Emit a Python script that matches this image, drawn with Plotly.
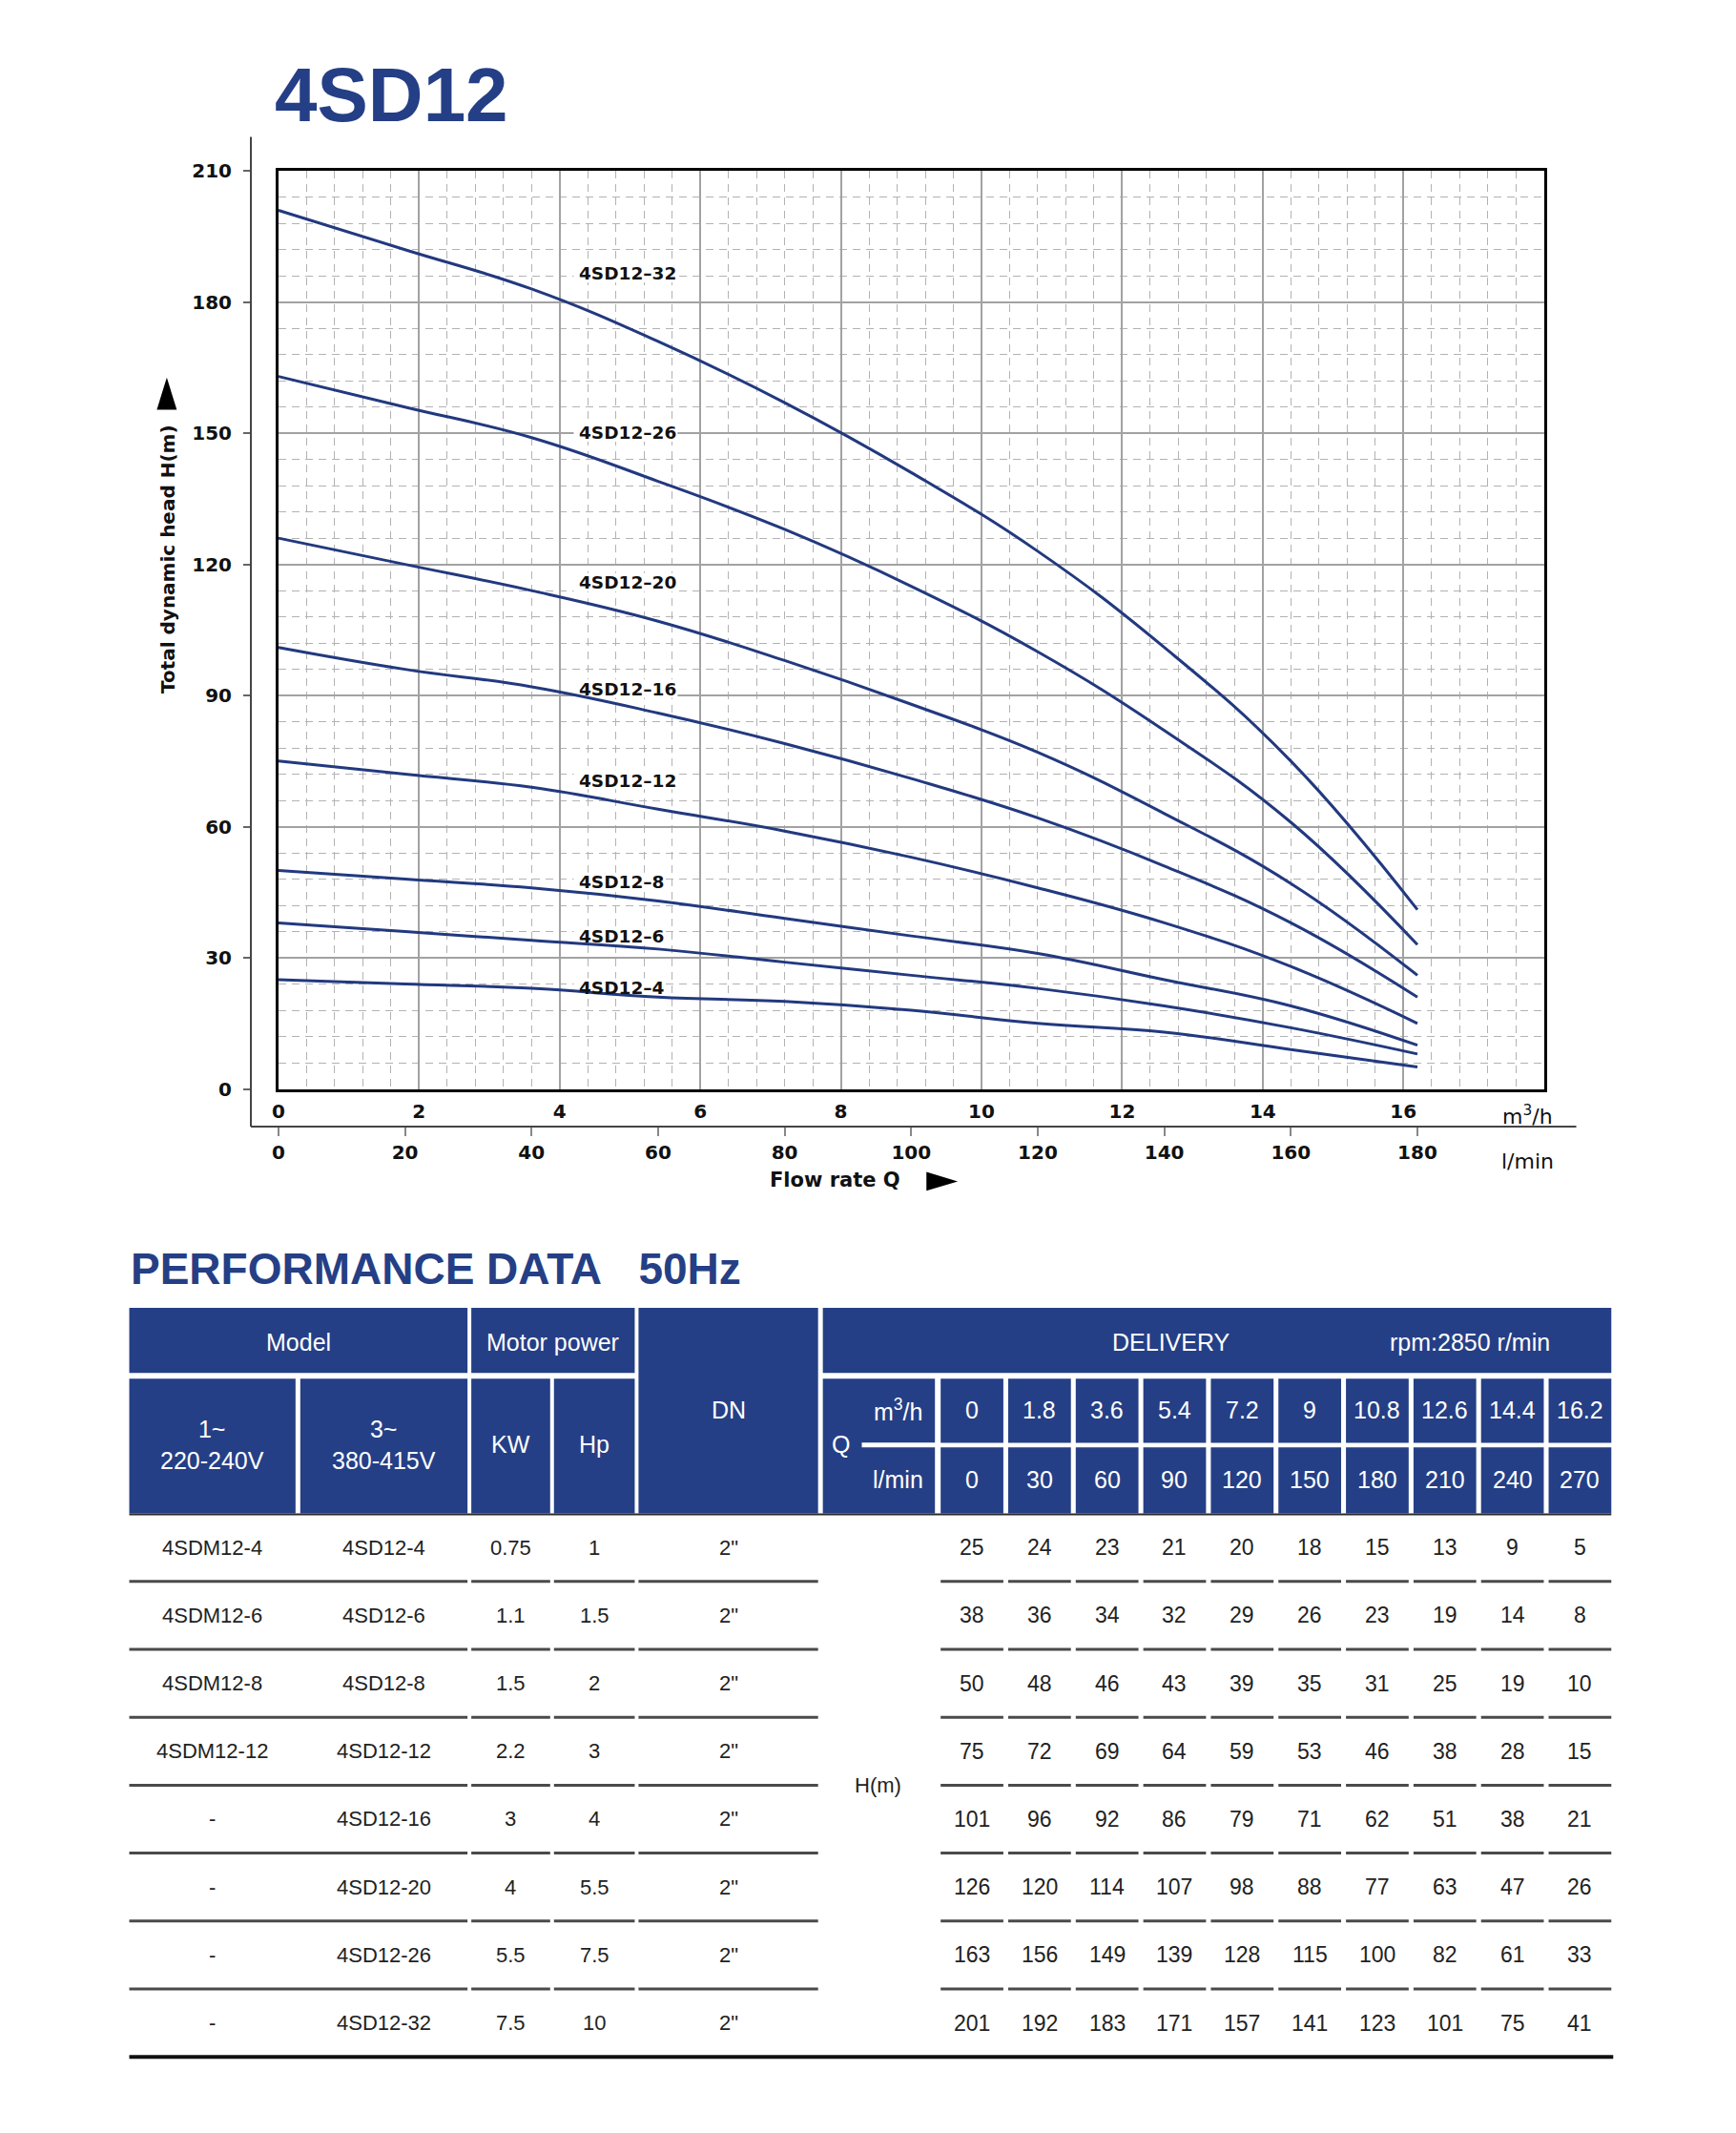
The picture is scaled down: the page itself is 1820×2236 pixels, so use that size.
import plotly.graph_objects as go

W, H = 1820, 2236
OFF = 8                      # default body margin of the html page
FIG_W, FIG_H = W - 2 * OFF - 24, H - 2 * OFF - 40
BLUE = "#253f86"
CURVE = "#22397f"
FONT = "Liberation Sans, Arial, sans-serif"
WIDE = "DejaVu Sans, Verdana, sans-serif"

# ---------- data ----------
q_m3h = [0, 1.8, 3.6, 5.4, 7.2, 9, 10.8, 12.6, 14.4, 16.2]
q_lmin = [0, 30, 60, 90, 120, 150, 180, 210, 240, 270]

model_1ph = ["4SDM12-4", "4SDM12-6", "4SDM12-8", "4SDM12-12", "-", "-", "-", "-"]
model_3ph = ["4SD12-4", "4SD12-6", "4SD12-8", "4SD12-12",
             "4SD12-16", "4SD12-20", "4SD12-26", "4SD12-32"]
power_kw = ["0.75", "1.1", "1.5", "2.2", "3", "4", "5.5", "7.5"]
power_hp = ["1", "1.5", "2", "3", "4", "5.5", "7.5", "10"]
dn = ['2"'] * 8

head = [
    [25, 24, 23, 21, 20, 18, 15, 13, 9, 5],
    [38, 36, 34, 32, 29, 26, 23, 19, 14, 8],
    [50, 48, 46, 43, 39, 35, 31, 25, 19, 10],
    [75, 72, 69, 64, 59, 53, 46, 38, 28, 15],
    [101, 96, 92, 86, 79, 71, 62, 51, 38, 21],
    [126, 120, 114, 107, 98, 88, 77, 63, 47, 26],
    [163, 156, 149, 139, 128, 115, 100, 82, 61, 33],
    [201, 192, 183, 171, 157, 141, 123, 101, 75, 41],
]
curve_names = ["4SD12–4", "4SD12–6", "4SD12–8", "4SD12–12",
               "4SD12–16", "4SD12–20", "4SD12–26", "4SD12–32"]

m3h_ticks = [0, 2, 4, 6, 8, 10, 12, 14, 16]
lmin_ticks = [0, 20, 40, 60, 80, 100, 120, 140, 160, 180]
h_ticks = [0, 30, 60, 90, 120, 150, 180, 210]


# ---------- helpers (page pixels -> paper) ----------
def px(x):
    return (x - OFF) / FIG_W


def py(y):
    return 1 - (y - OFF) / FIG_H


def rect(x0, y0, x1, y1, color=BLUE):
    return dict(type="rect", xref="paper", yref="paper",
                x0=px(x0), x1=px(x1), y0=py(y0), y1=py(y1),
                fillcolor=color, line=dict(width=0), layer="above")


def hline(x0, x1, y, color="#4a4a4a", width=3):
    return dict(type="line", xref="paper", yref="paper",
                x0=px(x0), x1=px(x1), y0=py(y), y1=py(y),
                line=dict(color=color, width=width))


def text(s, x, y, size=22, color="#222", bold=False, family=FONT, **kw):
    return dict(text=s, xref="paper", yref="paper", x=px(x), y=py(y),
                showarrow=False, xanchor=kw.pop("xanchor", "center"),
                yanchor="middle",
                font=dict(family=family, size=size, color=color,
                          weight="bold" if bold else "normal"), **kw)


# ---------- chart ----------
fig = go.Figure()
for name, h in zip(curve_names, head):
    fig.add_trace(go.Scatter(x=q_m3h, y=h, mode="lines", name=name,
                             line=dict(color=CURVE, width=3, shape="spline",
                                       smoothing=1.2),
                             hoverinfo="skip"))
fig.add_trace(go.Scatter(x=[], y=[], xaxis="x2", yaxis="y2", showlegend=False))

tick_font = dict(family=WIDE, size=20, color="#111", weight="bold")
grid = dict(showgrid=True, gridcolor="#a2a2a2", gridwidth=1.5, zeroline=False,
            showline=True, linecolor="black", linewidth=3, mirror=True)

shapes = []
annotations = []

# outer axis lines
shapes.append(dict(type="line", xref="paper", yref="paper",
                   x0=px(257), x1=px(257), y0=py(133), y1=py(1182),
                   line=dict(color="#444", width=2)))
shapes.append(hline(257, 1652, 1182, color="#444", width=2))
# arrows
shapes.append(dict(type="path", xref="paper", yref="paper",
                   path=f"M {px(158)},{py(422)} L {px(179)},{py(422)} "
                        f"L {px(168.5)},{py(388)} Z",
                   fillcolor="black", line=dict(width=0)))
shapes.append(dict(type="path", xref="paper", yref="paper",
                   path=f"M {px(968)},{py(1230)} L {px(968)},{py(1250)} "
                        f"L {px(1001)},{py(1240)} Z",
                   fillcolor="black", line=dict(width=0)))

# curve labels (white box under the text, above the grid)
label_x = 4.25
label_h = [23.1, 35.0, 47.3, 70.6, 91.5, 115.8, 150.1, 186.5]
for name, hy in zip(curve_names, label_h):
    wq = (13.2 * len(name)) / 74.0
    shapes.append(dict(type="rect", xref="x", yref="y", layer="between",
                       x0=label_x - 0.05, x1=label_x + wq, y0=hy - 2.0,
                       y1=hy + 2.2, fillcolor="white", line=dict(width=0)))
    annotations.append(dict(text=name, xref="x", yref="y", x=label_x, y=hy,
                            showarrow=False, xanchor="left", yanchor="middle",
                            font=dict(family=WIDE, size=18.5, color="#111",
                                      weight="bold")))

annotations += [
    text("4SD12", 405, 88, size=80, color=BLUE, bold=True),
    text("Total dynamic head H(m)", 169, 580, size=20, color="#111",
         bold=True, family=WIDE, textangle=-90),
    text("Flow rate Q", 872, 1239, size=21, color="#111", bold=True,
         family=WIDE),
    text("m<sup>3</sup>/h", 1601, 1170, size=22, color="#111", family=WIDE),
    text("l/min", 1601, 1219, size=22, color="#111", family=WIDE),
    text("PERFORMANCE DATA\u00a0\u00a0\u00a050Hz", 128, 1333, size=46,
         color=BLUE, bold=True, xanchor="left"),
]

# ---------- table ----------
left_cols = [(129, 304), (309, 485), (489, 572), (576, 661), (665, 854)]
q_group = (859, 977)
d_x0, d_pitch, d_w = 983, 71.1, 66
data_cols = [(d_x0 + d_pitch * i, d_x0 + d_pitch * i + d_w) for i in range(len(q_m3h))]
r1 = (1374, 1443)
r2 = (1449, 1592)
r2a = (1449, 1517)
r2b = (1522, 1592)
row_h = 72
body_top = 1592

shapes += [
    rect(left_cols[0][0], r1[0], left_cols[1][1], r1[1]),
    rect(left_cols[2][0], r1[0], left_cols[3][1], r1[1]),
    rect(left_cols[4][0], r1[0], left_cols[4][1], r2[1]),
    rect(q_group[0], r1[0], data_cols[-1][1], r1[1]),
    rect(q_group[0], r2[0], q_group[1], r2[1]),
]
for c in left_cols[:4]:
    shapes.append(rect(c[0], r2[0], c[1], r2[1]))
for c in data_cols:
    shapes.append(rect(c[0], r2a[0], c[1], r2a[1]))
    shapes.append(rect(c[0], r2b[0], c[1], r2b[1]))
shapes.append(hline(900, d_x0, 1519.5, color="white", width=5))
shapes.append(hline(left_cols[0][0], data_cols[-1][1], 1593, color="#2a2a2a", width=2))

hdr = dict(size=25, color="white")
annotations += [
    text("Model", (left_cols[0][0] + left_cols[1][1]) / 2, 1410, **hdr),
    text("Motor power", (left_cols[2][0] + left_cols[3][1]) / 2, 1410, **hdr),
    text("DN", sum(left_cols[4]) / 2, 1482, **hdr),
    text("DELIVERY", 1226, 1410, **hdr),
    text("rpm:2850 r/min", 1540, 1410, **hdr),
    text("1~<br>220-240V", sum(left_cols[0]) / 2, 1519, **hdr),
    text("3~<br>380-415V", sum(left_cols[1]) / 2, 1519, **hdr),
    text("KW", sum(left_cols[2]) / 2, 1519, **hdr),
    text("Hp", sum(left_cols[3]) / 2, 1519, **hdr),
    text("Q", 878, 1519, **hdr),
    text("m<sup>3</sup>/h", 938, 1482, **hdr),
    text("l/min", 938, 1556, **hdr),
]
for c, qm, ql in zip(data_cols, q_m3h, q_lmin):
    cx = (c[0] + c[1]) / 2
    annotations.append(text(f"{qm:g}", cx, 1482, **hdr))
    annotations.append(text(f"{ql}", cx, 1556, **hdr))

for i in range(len(model_3ph)):
    cy = body_top + row_h * i + row_h / 2
    for c, val in zip(left_cols, [model_1ph[i], model_3ph[i], power_kw[i],
                                  power_hp[i], dn[i]]):
        annotations.append(text(val, sum(c) / 2, cy, size=22))
    for c, val in zip(data_cols, head[i]):
        annotations.append(text(str(val), (c[0] + c[1]) / 2, cy, size=23))
    yl = body_top + row_h * (i + 1)
    if i < len(model_3ph) - 1:
        segs = [(left_cols[0][0], 485), (489, 572), (576, 661), (665, 854)] + data_cols
        for s in segs:
            shapes.append(hline(s[0], s[1], yl))
    else:
        shapes.append(hline(left_cols[0][0], data_cols[-1][1] + 2, yl,
                            color="#111", width=4))

annotations.append(text("H(m)", sum(q_group) / 2 - 1,
                        body_top + row_h * len(model_3ph) / 2, size=22))

fig.update_layout(
    width=FIG_W, height=FIG_H, autosize=False,
    margin=dict(l=0, r=0, t=0, b=0),
    paper_bgcolor="white", plot_bgcolor="white",
    showlegend=False, hovermode=False,
    xaxis=dict(domain=[px(286), px(1618)], range=[0, 18], anchor="y",
               tickmode="array", tickvals=m3h_ticks, ticks="",
               tickfont=tick_font, ticklabelstandoff=3,
               minor=dict(tick0=0, dtick=0.4, showgrid=True,
                          gridcolor="#b2b2b2", gridwidth=1.3,
                          griddash="8px,6px"),
               **grid),
    yaxis=dict(domain=[py(1142), py(169)], range=[0, 210], anchor="x",
               tick0=0, dtick=30, showticklabels=False, ticks="",
               minor=dict(tick0=0, dtick=6, showgrid=True,
                          gridcolor="#b2b2b2", gridwidth=1.3,
                          griddash="8px,6px"),
               **grid),
    xaxis2=dict(overlaying="x", anchor="free", position=py(1182),
                side="bottom", range=[0, 200], tickmode="array",
                tickvals=lmin_ticks, ticks="outside", ticklen=9,
                tickwidth=1.5, tickcolor="#888", showgrid=False,
                showline=False, zeroline=False, tickfont=tick_font),
    yaxis2=dict(overlaying="y", anchor="free", position=px(257),
                side="left", range=[0, 210], tickmode="array",
                tickvals=h_ticks, ticks="outside", ticklen=8,
                tickwidth=1.5, tickcolor="#666", showgrid=False,
                showline=False, zeroline=False, tickfont=tick_font,
                ticklabelstandoff=8),
    shapes=shapes,
    annotations=annotations,
)

fig.write_html("out.html")
